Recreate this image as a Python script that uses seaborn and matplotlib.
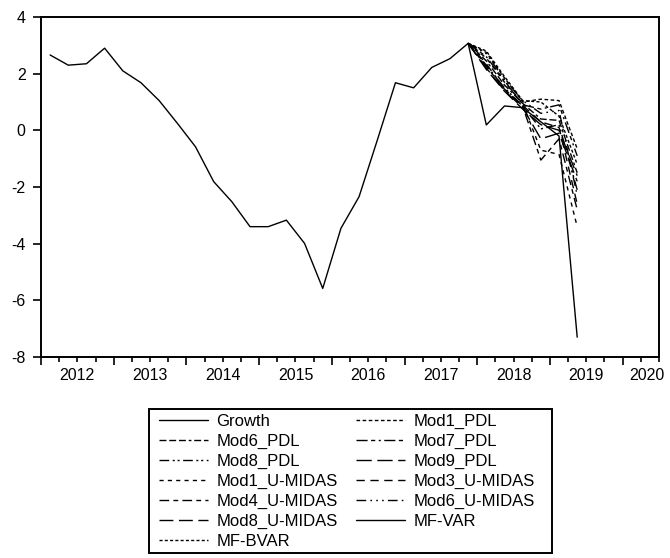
import matplotlib
matplotlib.use("Agg")
import matplotlib.pyplot as plt
from matplotlib.patches import Rectangle
import numpy as np
import pandas as pd
import seaborn as sns

# Quarterly growth (2012Q1 - 2017Q4)
growth_start = "2012Q1"
growth = [2.66, 2.30, 2.35, 2.90,
          2.10, 1.68, 1.05, 0.25,
          -0.58, -1.81, -2.52, -3.40,
          -3.40, -3.17, -3.99, -5.58,
          -3.46, -2.34, -0.35, 1.68,
          1.50, 2.22, 2.53, 3.07]

# Forecast path of each model, starting from the last observed quarter
forecast_periods = ["2017Q4", "2018Q1", "2018Q2", "2018Q3", "2018Q4", "2019Q1", "2019Q2"]
mod1_pdl = [3.07, 2.75, 1.85, 1.00, 1.10, 1.05, -0.65]
mod6_pdl = [3.07, 2.45, 1.60, 0.95, 0.40, 0.35, -1.50]
mod7_pdl = [3.07, 2.60, 1.75, 0.90, 0.75, 0.90, -0.90]
mod8_pdl = [3.07, 2.30, 1.50, 0.85, 0.05, 0.20, -2.10]
mod9_pdl = [3.07, 2.20, 1.40, 0.80, -0.30, -0.10, -1.80]
mod1_umidas = [3.07, 2.55, 1.70, 0.95, -0.70, -0.85, -3.40]
mod3_umidas = [3.07, 2.35, 1.45, 0.88, 0.30, 0.10, -2.60]
mod4_umidas = [3.07, 2.25, 1.45, 0.85, -1.05, -0.30, -2.80]
mod6_umidas = [3.07, 2.70, 1.80, 1.05, 0.60, 0.70, -2.30]
mod8_umidas = [3.07, 2.15, 1.38, 0.75, 0.20, 0.00, -1.60]
mf_var = [3.07, 0.19, 0.86, 0.80, 0.30, -0.20, -7.30]
mf_bvar = [3.07, 2.80, 1.90, 1.05, 1.00, 0.50, -1.20]

year_labels = ["2012", "2013", "2014", "2015", "2016", "2017", "2018", "2019", "2020"]
y_ticks = [4, 2, 0, -2, -4, -6, -8]


def quarter_pos(period):
    """Centre of a quarter on a decimal-year axis."""
    year, q = period.split("Q")
    return int(year) + (int(q) - 1) / 4 + 0.125


y0, q0 = growth_start.split("Q")
growth_x = [int(y0) + (int(q0) - 1 + i) / 4 + 0.125 for i in range(len(growth))]
fc_x = [quarter_pos(p) for p in forecast_periods]

series = [
    ("Growth", growth_x, growth, "-"),
    ("Mod1_PDL", fc_x, mod1_pdl, (0, (2.6, 1.8))),
    ("Mod6_PDL", fc_x, mod6_pdl, (0, (5, 2, 5, 2, 5, 2, 2, 2))),
    ("Mod7_PDL", fc_x, mod7_pdl, (0, (8, 2.5, 3, 2.5, 1.5, 2.5))),
    ("Mod8_PDL", fc_x, mod8_pdl, (0, (7, 2.5, 1.5, 2, 1.5, 2.5))),
    ("Mod9_PDL", fc_x, mod9_pdl, (0, (11, 4))),
    ("Mod1_U-MIDAS", fc_x, mod1_umidas, (0, (3, 3))),
    ("Mod3_U-MIDAS", fc_x, mod3_umidas, (0, (6, 4))),
    ("Mod4_U-MIDAS", fc_x, mod4_umidas, (0, (7, 3, 3.5, 3))),
    ("Mod6_U-MIDAS", fc_x, mod6_umidas, (0, (7, 3, 1.2, 3, 1.2, 3, 1.2, 3))),
    ("Mod8_U-MIDAS", fc_x, mod8_umidas, (0, (10, 4))),
    ("MF-VAR", fc_x, mf_var, "-"),
    ("MF-BVAR", fc_x, mf_bvar, (0, (2.2, 1.6))),
]

sns.set_theme(style="ticks")
plt.rcParams["font.family"] = ["Liberation Sans", "DejaVu Sans"]
plt.rcParams["text.color"] = "black"

W, H = 670, 558
fig = plt.figure(figsize=(W / 100, H / 100), dpi=100)
ax = fig.add_axes([41 / W, 1 - 357 / H, 618 / W, 340 / H])

handles = {}
for name, xs, ys, ls in series:
    df = pd.DataFrame({"t": xs, "v": ys})
    sns.lineplot(data=df, x="t", y="v", ax=ax, color="black", linewidth=1.0,
                 linestyle=ls, sort=False, estimator=None, legend=False)
    handles[name] = ax.lines[-1]

ax.set_xlim(2012, 2020.5)
ax.set_ylim(-8, 4)
ax.set_xlabel("")
ax.set_ylabel("")

for s in ax.spines.values():
    s.set_visible(True)
    s.set_color("black")
    s.set_linewidth(1.4)

# y axis: ticks on the left only
ax.set_yticks(y_ticks)
ax.set_yticklabels([str(v) for v in y_ticks])
ax.tick_params(axis="y", which="both", direction="out", length=6, width=1.2,
               colors="black", labelsize=11.5, pad=5, right=False, left=True)

# x axis: year ticks long, quarter ticks short, labels centred on each year
years = np.arange(2012, 2021)
ax.set_xticks(years)
ax.set_xticklabels([])
ax.set_xticks(np.arange(2012, 2020.51, 0.25), minor=True)
ax.tick_params(axis="x", which="major", direction="out", length=6, width=1.2,
               colors="black", top=False)
ax.tick_params(axis="x", which="minor", direction="out", length=3.5, width=1.2,
               colors="black", top=False)

sec = ax.secondary_xaxis("bottom")
label_pos = [y + 0.5 for y in range(2012, 2020)] + [2020.33]
sec.set_xticks(label_pos)
sec.set_xticklabels(year_labels)
sec.tick_params(length=0, pad=8, labelsize=11.5, colors="black")
for s in sec.spines.values():
    s.set_visible(False)

# legend: two columns, filled row by row, inside a plain box
order = [name for name, *_ in series]
leg_order = order[0::2] + order[1::2]
leg = fig.legend([handles[n] for n in leg_order], leg_order, ncol=2,
                 loc="upper left", bbox_to_anchor=(159 / W, 1 - 414 / H),
                 frameon=False, fontsize=12, handlelength=2.95,
                 handletextpad=0.5, columnspacing=1.1, labelspacing=0.29,
                 borderpad=0, borderaxespad=0, labelcolor="black")
fig.add_artist(Rectangle((149 / W, 1 - 553 / H), 403 / W, 144 / H,
                         transform=fig.transFigure, fill=False,
                         edgecolor="black", linewidth=1.4))

fig.savefig("out.png", dpi=100)
